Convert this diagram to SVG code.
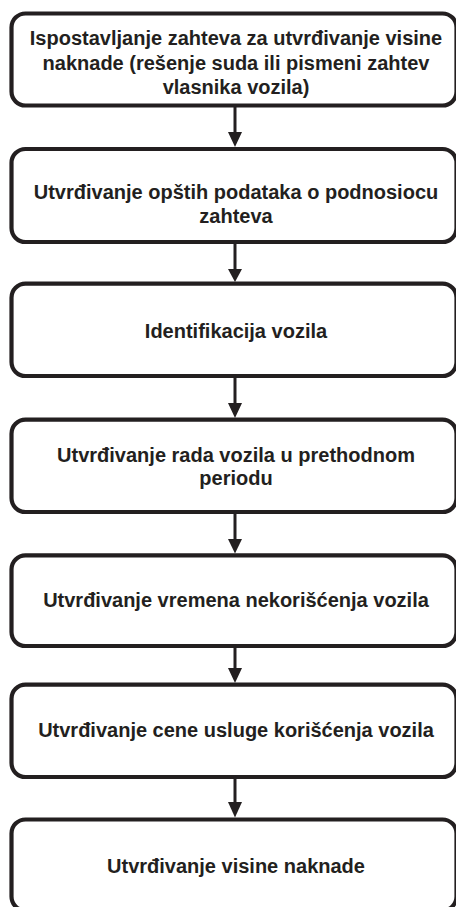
<svg xmlns="http://www.w3.org/2000/svg" width="456" height="907" viewBox="0 0 456 907">
<defs>
<style>
.box{fill:#ffffff;stroke:#231f20;stroke-width:4.2}
.lbl{font-family:"Liberation Sans",Arial,sans-serif;font-weight:bold;font-size:20px;fill:#231f20;text-anchor:middle}
.con{stroke:#231f20;stroke-width:3;fill:none}
.head{fill:#231f20}
</style>
</defs>
<rect width="456" height="907" fill="#ffffff"/>
<g id="connectors">
<line class="con" x1="235" y1="107" x2="235" y2="134"/>
<polygon class="head" points="228,132 242,132 235,147"/>
<line class="con" x1="235" y1="244" x2="235" y2="271"/>
<polygon class="head" points="228,269 242,269 235,282"/>
<line class="con" x1="235" y1="378" x2="235" y2="405"/>
<polygon class="head" points="228,403 242,403 235,418"/>
<line class="con" x1="235" y1="514" x2="235" y2="541"/>
<polygon class="head" points="228,539 242,539 235,553.5"/>
<line class="con" x1="235" y1="648" x2="235" y2="670"/>
<polygon class="head" points="228,668 242,668 235,683"/>
<line class="con" x1="235" y1="779" x2="235" y2="804"/>
<polygon class="head" points="228,802 242,802 235,817.5"/>
</g>
<g id="n1">
<rect class="box" x="11.5" y="13.5" width="445" height="92" rx="14"/>
<text class="lbl" x="236" y="45">Ispostavljanje zahteva za utvrđivanje visine</text>
<text class="lbl" x="236" y="69.5">naknade (rešenje suda ili pismeni zahtev</text>
<text class="lbl" x="236" y="94.3">vlasnika vozila)</text>
</g>
<g id="n2">
<rect class="box" x="11.5" y="149" width="445" height="93" rx="14"/>
<text class="lbl" x="236" y="199.3">Utvrđivanje opštih podataka o podnosiocu</text>
<text class="lbl" x="236" y="223.3">zahteva</text>
</g>
<g id="n3">
<rect class="box" x="11.5" y="283.7" width="445" height="92.3" rx="14"/>
<text class="lbl" x="236" y="338.3">Identifikacija vozila</text>
</g>
<g id="n4">
<rect class="box" x="11.5" y="419.7" width="445" height="92.3" rx="14"/>
<text class="lbl" x="236" y="461.7">Utvrđivanje rada vozila u prethodnom</text>
<text class="lbl" x="236" y="485">periodu</text>
</g>
<g id="n5">
<rect class="box" x="11.5" y="555.3" width="445" height="90.7" rx="14"/>
<text class="lbl" x="236" y="607.3">Utvrđivanje vremena nekorišćenja vozila</text>
</g>
<g id="n6">
<rect class="box" x="11.5" y="684.7" width="445" height="92.3" rx="14"/>
<text class="lbl" x="236" y="736.7">Utvrđivanje cene usluge korišćenja vozila</text>
</g>
<g id="n7">
<rect class="box" x="11.5" y="819.5" width="445" height="91" rx="14"/>
<text class="lbl" x="236" y="872.7">Utvrđivanje visine naknade</text>
</g>
</svg>
